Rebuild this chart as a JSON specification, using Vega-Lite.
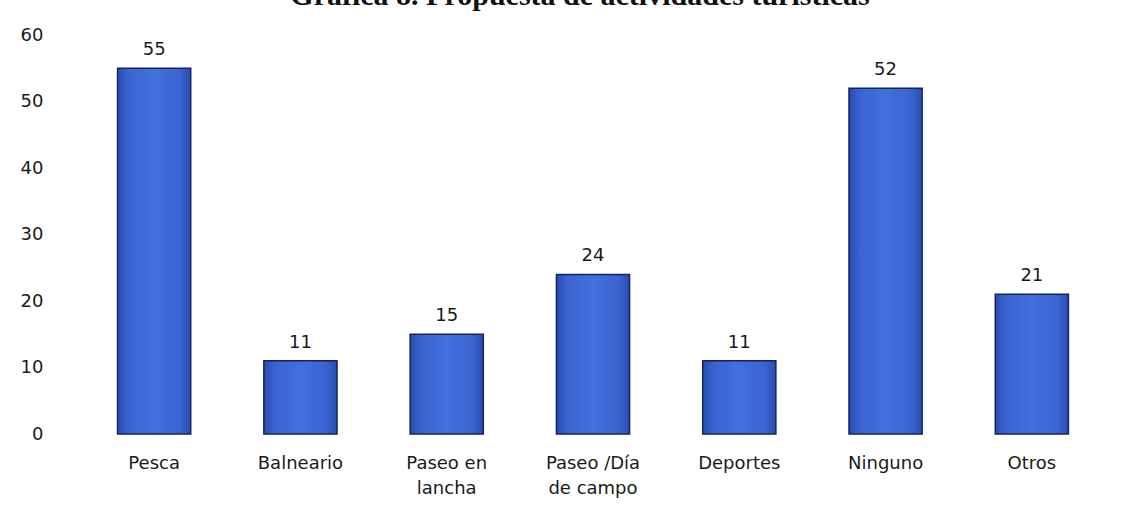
{
  "$schema": "https://vega.github.io/schema/vega-lite/v6.json",
  "width": 1024,
  "height": 399,
  "autosize": {"type": "none"},
  "padding": {"left": 81, "top": 35, "right": 16, "bottom": 75},
  "background": "white",
  "title": {
    "text": "Gráfica 8. Propuesta de actividades turísticas",
    "font": "Liberation Serif",
    "fontSize": 30,
    "fontWeight": "bold",
    "color": "#111111",
    "anchor": "middle",
    "dx": -13,
    "offset": -9,
    "baseline": "alphabetic"
  },
  "data": {
    "values": [
      {"actividad": "Pesca", "valor": 55},
      {"actividad": "Balneario", "valor": 11},
      {"actividad": "Paseo en lancha", "valor": 15},
      {"actividad": "Paseo /Día de campo", "valor": 24},
      {"actividad": "Deportes", "valor": 11},
      {"actividad": "Ninguno", "valor": 52},
      {"actividad": "Otros", "valor": 21}
    ]
  },
  "encoding": {
    "x": {
      "field": "actividad",
      "type": "nominal",
      "sort": null,
      "scale": {"paddingInner": 0.5, "paddingOuter": 0.25},
      "axis": {
        "title": null,
        "domain": false,
        "ticks": false,
        "labelAngle": 0,
        "labelFont": "DejaVu Sans",
        "labelFontSize": 18,
        "labelColor": "#1a1a1a",
        "labelPadding": 20,
        "labelLineHeight": 25,
        "labelExpr": "datum.value == 'Paseo en lancha' ? ['Paseo en', 'lancha'] : datum.value == 'Paseo /Día de campo' ? ['Paseo /Día', 'de campo'] : datum.value"
      }
    },
    "y": {
      "field": "valor",
      "type": "quantitative",
      "scale": {"domain": [0, 60]},
      "axis": {
        "title": null,
        "domain": false,
        "ticks": false,
        "grid": false,
        "values": [0, 10, 20, 30, 40, 50, 60],
        "labelFont": "DejaVu Sans",
        "labelFontSize": 18,
        "labelColor": "#1a1a1a",
        "labelPadding": 38
      }
    }
  },
  "layer": [
    {
      "mark": {
        "type": "bar",
        "stroke": "#15245e",
        "strokeWidth": 1.5,
        "color": {
          "gradient": "linear",
          "x1": 0, "x2": 1, "y1": 0, "y2": 0,
          "stops": [
            {"offset": 0, "color": "#2a4cb0"},
            {"offset": 0.15, "color": "#3a64d2"},
            {"offset": 0.5, "color": "#4270dc"},
            {"offset": 0.85, "color": "#3a64d2"},
            {"offset": 1, "color": "#2a4cb0"}
          ]
        }
      }
    },
    {
      "mark": {
        "type": "text",
        "font": "DejaVu Sans",
        "fontSize": 18,
        "color": "#1a1a1a",
        "baseline": "bottom",
        "dy": -9
      },
      "encoding": {"text": {"field": "valor", "type": "quantitative"}}
    }
  ],
  "config": {"view": {"stroke": null}}
}
